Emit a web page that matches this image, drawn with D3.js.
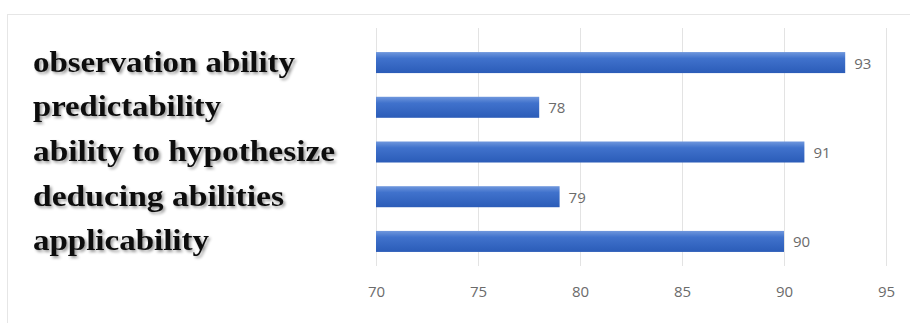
<!DOCTYPE html>
<html lang="en">
<head>
  <meta charset="UTF-8">
  <title>Abilities</title>
  <style>
  body {
    margin: 0;
    background: #fff;
  }
  .label {
    font-family: "Liberation Serif", "DejaVu Serif", serif;
    font-weight: bold;
    fill: #111;
  }
  .value, .tick text {
    font-family: "Open Sans", "Liberation Sans", sans-serif;
    font-size: 15px;
    fill: #6b6b6b;
  }
  </style>
</head>
<body>
  <script src="https://d3js.org/d3.v7.min.js"></script>
  <script>

  var categories = ['observation ability', 'predictability', 'ability to hypothesize', 'deducing abilities', 'applicability'];
  var values = [93, 78, 91, 79, 90];
  var ticks = [70, 75, 80, 85, 90, 95];
  var labelWidths = [262, 188, 302, 251, 176];

  var width = 910, height = 323;

  var svg = d3.select('body').append('svg')
              .attr('width', width)
              .attr('height', height);

  var defs = svg.append('defs');
  var grad = defs.append('linearGradient')
                 .attr('id', 'bar')
                 .attr('x1', 0).attr('y1', 0).attr('x2', 0).attr('y2', 1);
  grad.append('stop').attr('offset', '0%').attr('stop-color', '#6f97dd');
  grad.append('stop').attr('offset', '30%').attr('stop-color', '#4072cc');
  grad.append('stop').attr('offset', '100%').attr('stop-color', '#2b5cb8');

  var shadow = defs.append('filter').attr('id', 'shadow')
                   .attr('x', '-5%').attr('y', '-20%').attr('width', '115%').attr('height', '150%');
  shadow.append('feGaussianBlur').attr('in', 'SourceAlpha').attr('stdDeviation', 1.4).attr('result', 'b');
  shadow.append('feOffset').attr('in', 'b').attr('dx', 1.5).attr('dy', 1.5).attr('result', 'o');
  shadow.append('feComponentTransfer').attr('in', 'o').attr('result', 's')
        .append('feFuncA').attr('type', 'linear').attr('slope', 0.4);
  var merge = shadow.append('feMerge');
  merge.append('feMergeNode').attr('in', 's');
  merge.append('feMergeNode').attr('in', 'SourceGraphic');

  // frame
  svg.append('rect')
     .attr('x', 7.5).attr('y', 14.5)
     .attr('width', 905).attr('height', 320)
     .attr('fill', 'none')
     .attr('stroke', '#e6e6e6');

  var x = d3.scaleLinear().domain([70, 95]).range([376, 886]);
  var y = d3.scaleBand().domain(categories).range([40, 264]).paddingInner(0.53).paddingOuter(0.27);

  // grid
  svg.append('g').selectAll('line')
     .data(ticks)
     .enter().append('line')
     .attr('x1', function (d) { return x(d) + 0.5; })
     .attr('x2', function (d) { return x(d) + 0.5; })
     .attr('y1', 28)
     .attr('y2', 266)
     .attr('stroke', '#e3e3e3');

  // x axis labels
  var axis = d3.axisBottom(x).tickValues(ticks).tickSize(0).tickPadding(0);
  svg.append('g')
     .attr('transform', 'translate(0,286)')
     .call(axis)
     .call(function (g) { g.select('.domain').remove(); });

  // bars
  svg.append('g').selectAll('rect')
     .data(values)
     .enter().append('rect')
     .attr('x', x(70))
     .attr('y', function (d, i) { return y(categories[i]); })
     .attr('width', function (d) { return x(d) - x(70); })
     .attr('height', y.bandwidth())
     .attr('fill', 'url(#bar)');

  svg.append('g').selectAll('text')
     .data(values)
     .enter().append('text')
     .attr('class', 'value')
     .attr('x', function (d) { return x(d) + 9; })
     .attr('y', function (d, i) { return y(categories[i]) + y.bandwidth() / 2 + 6; })
     .text(function (d) { return d; });

  // category labels
  svg.append('g').attr('filter', 'url(#shadow)')
     .selectAll('text')
     .data(categories)
     .enter().append('text')
     .attr('class', 'label')
     .attr('x', 33)
     .attr('y', function (d) { return y(d) + y.bandwidth() / 2 + 9; })
     .attr('font-size', 30)
     .attr('textLength', function (d, i) { return labelWidths[i]; })
     .attr('lengthAdjust', 'spacingAndGlyphs')
     .text(function (d) { return d; });

  </script>
</body>
</html>
